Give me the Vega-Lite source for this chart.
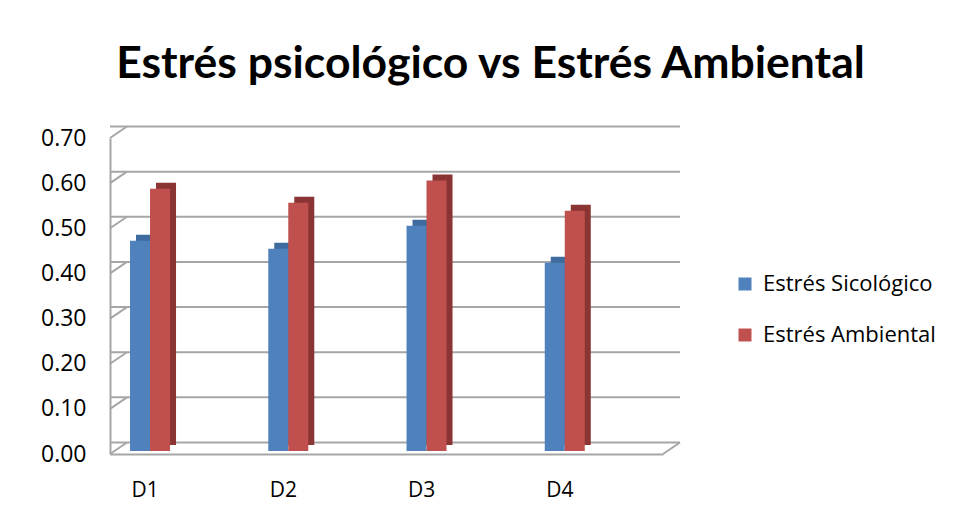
{
  "$schema": "https://vega.github.io/schema/vega-lite/v6.json",
  "width": 553,
  "height": 316,
  "autosize": {"type": "none"},
  "padding": {"left": 110, "top": 138, "right": 292, "bottom": 63},
  "background": "white",
  "title": {
    "text": "Estrés psicológico vs Estrés Ambiental",
    "font": "Lato",
    "fontWeight": "bold",
    "fontSize": 44.5,
    "color": "black",
    "anchor": "middle",
    "frame": "group",
    "dx": 104,
    "offset": 38
  },
  "config": {"view": {"stroke": null}},
  "datasets": {
    "bars": [
      {"cat": "D1", "serie": "Estrés Sicológico", "v": 0.466},
      {"cat": "D1", "serie": "Estrés Ambiental", "v": 0.581},
      {"cat": "D2", "serie": "Estrés Sicológico", "v": 0.448},
      {"cat": "D2", "serie": "Estrés Ambiental", "v": 0.55},
      {"cat": "D3", "serie": "Estrés Sicológico", "v": 0.499},
      {"cat": "D3", "serie": "Estrés Ambiental", "v": 0.599},
      {"cat": "D4", "serie": "Estrés Sicológico", "v": 0.417},
      {"cat": "D4", "serie": "Estrés Ambiental", "v": 0.532}
    ],
    "grid": [
      {"v": 0}, {"v": 0.1}, {"v": 0.2}, {"v": 0.3},
      {"v": 0.4}, {"v": 0.5}, {"v": 0.6}, {"v": 0.7}
    ],
    "corner": [{"v": 0}]
  },
  "data": {"name": "bars"},
  "encoding": {
    "x": {
      "field": "cat",
      "type": "nominal",
      "scale": {"domain": ["D1", "D2", "D3", "D4"], "paddingInner": 0, "paddingOuter": 0},
      "axis": {
        "title": null,
        "labelAngle": 0,
        "labelFont": "Open Sans",
        "labelFontSize": 21,
        "labelColor": "black",
        "labelOffset": -34,
        "labelPadding": 25,
        "ticks": false,
        "domainColor": "#A6A6A6",
        "domainWidth": 2,
        "grid": false
      }
    },
    "y": {
      "field": "v",
      "type": "quantitative",
      "scale": {"domain": [0, 0.7], "nice": false},
      "axis": {
        "title": null,
        "values": [0, 0.1, 0.2, 0.3, 0.4, 0.5, 0.6, 0.7],
        "format": ".2f",
        "labelFont": "Open Sans",
        "labelFontSize": 23,
        "labelColor": "black",
        "labelPadding": 24,
        "ticks": false,
        "domainColor": "#A6A6A6",
        "domainWidth": 2,
        "grid": false
      }
    }
  },
  "layer": [
    {
      "data": {"name": "grid"},
      "mark": {"type": "rule", "color": "#A6A6A6", "strokeWidth": 2, "xOffset": 17, "x2Offset": 17, "yOffset": -11.5},
      "encoding": {"x": null, "y": {"field": "v", "type": "quantitative"}}
    },
    {
      "data": {"name": "grid"},
      "mark": {"type": "rule", "color": "#A6A6A6", "strokeWidth": 2, "x2Offset": 17, "y2Offset": -11.5},
      "encoding": {
        "x": {"datum": "D1", "bandPosition": 0},
        "x2": {"datum": "D1", "bandPosition": 0},
        "y": {"field": "v", "type": "quantitative"},
        "y2": {"field": "v"}
      }
    },
    {
      "data": {"name": "corner"},
      "mark": {"type": "rule", "color": "#A6A6A6", "strokeWidth": 2, "x2Offset": 17, "y2Offset": -11.5},
      "encoding": {
        "x": {"datum": "D4", "bandPosition": 1},
        "x2": {"datum": "D4", "bandPosition": 1},
        "y": {"field": "v", "type": "quantitative"},
        "y2": {"field": "v"}
      }
    },
    {
      "transform": [{"filter": "datum.serie === 'Estrés Sicológico'"}],
      "mark": {"type": "bar", "width": {"band": 0.1447}, "xOffset": -33.1, "yOffset": -9, "y2Offset": -6, "color": "#3F6C9F"},
      "encoding": {}
    },
    {
      "transform": [{"filter": "datum.serie === 'Estrés Sicológico'"}],
      "mark": {"type": "bar", "width": {"band": 0.1447}, "xOffset": -39.1, "yOffset": -3, "y2Offset": -3},
      "encoding": {
        "color": {
          "field": "serie",
          "type": "nominal",
          "scale": {"domain": ["Estrés Sicológico", "Estrés Ambiental"], "range": ["#4F81BD", "#C0504D"]},
          "legend": {
            "orient": "none",
            "legendX": 624,
            "legendY": 135,
            "padding": 0,
            "title": null,
            "symbolType": "square",
            "symbolSize": 169,
            "symbolStrokeWidth": 0,
            "labelFont": "Open Sans",
            "labelFontSize": 22,
            "labelColor": "black",
            "labelOffset": 7,
            "labelLimit": 400,
            "rowPadding": 29
          }
        }
      }
    },
    {
      "transform": [{"filter": "datum.serie === 'Estrés Ambiental'"}],
      "mark": {"type": "bar", "width": {"band": 0.1447}, "xOffset": -13.1, "yOffset": -9, "y2Offset": -6, "color": "#8A3533"},
      "encoding": {}
    },
    {
      "transform": [{"filter": "datum.serie === 'Estrés Ambiental'"}],
      "mark": {"type": "bar", "width": {"band": 0.1447}, "xOffset": -19.1, "yOffset": -3, "y2Offset": -3},
      "encoding": {
        "color": {"field": "serie", "type": "nominal"}
      }
    }
  ]
}
